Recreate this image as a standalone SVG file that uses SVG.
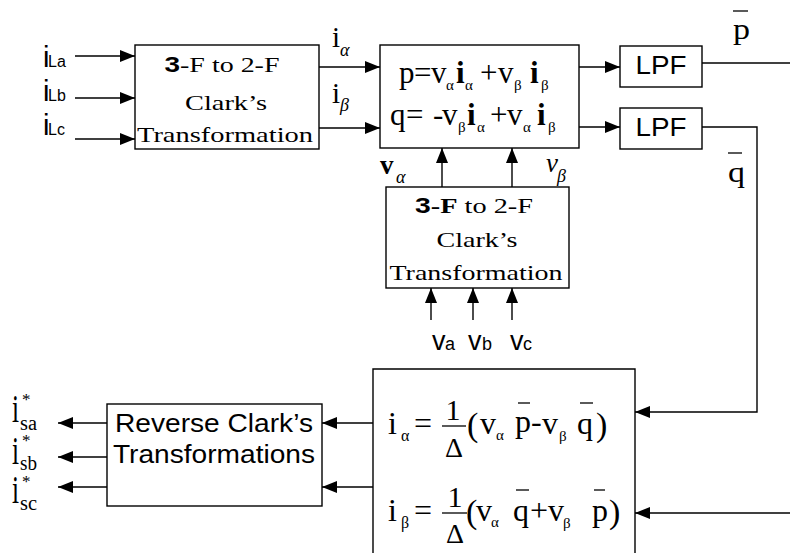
<svg xmlns="http://www.w3.org/2000/svg" width="790" height="553" viewBox="0 0 790 553">
  <style>
    .box{fill:#fff;stroke:#000;stroke-width:1.4}
    .ln{fill:none;stroke:#000;stroke-width:1.4}
    .bar{stroke:#000;stroke-width:1.3}
    .serif{font-family:"Liberation Serif","Times New Roman",serif;fill:#000}
    .sans{font-family:"Liberation Sans",Arial,sans-serif;fill:#000}
    .arr{marker-end:url(#head)}
  </style>
  <defs>
    <marker id="head" markerUnits="userSpaceOnUse" markerWidth="15" markerHeight="12" refX="15" refY="6" orient="auto">
      <path d="M0,0 L15,6 L0,12 z" fill="#000"/>
    </marker>
  </defs>
  <rect width="790" height="553" fill="#fff"/>

  <!-- connectors -->
  <g id="connectors">
    <path class="ln arr" d="M75,56 H135"/>
    <path class="ln arr" d="M75,98 H135"/>
    <path class="ln arr" d="M75,139 H135"/>
    <path class="ln arr" d="M319,67 H380"/>
    <path class="ln arr" d="M319,128 H380"/>
    <path class="ln arr" d="M579,67 H620"/>
    <path class="ln arr" d="M579,127 H620"/>
    <path class="ln" d="M702,63 H790"/>
    <path class="ln arr" d="M702,127 H757 V412 H635"/>
    <path class="ln arr" d="M442,187 V148"/>
    <path class="ln arr" d="M512,187 V148"/>
    <path class="ln arr" d="M431,320 V288"/>
    <path class="ln arr" d="M473,320 V288"/>
    <path class="ln arr" d="M512,320 V288"/>
    <path class="ln arr" d="M790,513 H635"/>
    <path class="ln arr" d="M373,423 H322"/>
    <path class="ln arr" d="M373,487 H322"/>
    <path class="ln arr" d="M107,423 H58"/>
    <path class="ln arr" d="M107,457 H58"/>
    <path class="ln arr" d="M107,487 H58"/>
  </g>

  <!-- load current inputs -->
  <g id="inputs-il">
    <text class="sans"><tspan x="43" y="67" font-size="29">i</tspan><tspan x="48" y="67" font-size="16">La</tspan></text>
    <text class="sans"><tspan x="43" y="101" font-size="29">i</tspan><tspan x="48" y="101" font-size="16">Lb</tspan></text>
    <text class="sans"><tspan x="43" y="135" font-size="29">i</tspan><tspan x="48" y="135" font-size="16">Lc</tspan></text>
  </g>

  <!-- current Clarke transformation -->
  <g id="clark-current">
    <rect class="box" x="135" y="45" width="184" height="104"/>
    <text class="serif" x="222" y="72" font-size="22" text-anchor="middle" textLength="115" lengthAdjust="spacingAndGlyphs"><tspan class="sans" font-weight="bold">3</tspan>-F  to 2-F</text>
    <text class="serif" x="226" y="110" font-size="22" text-anchor="middle" textLength="82" lengthAdjust="spacingAndGlyphs">Clark’s</text>
    <text class="serif" x="225" y="142" font-size="22" text-anchor="middle" textLength="176" lengthAdjust="spacingAndGlyphs">Transformation</text>
  </g>

  <!-- alpha/beta current labels -->
  <g id="labels-i">
    <text class="serif"><tspan x="332" y="47" font-size="29">i</tspan><tspan x="340" y="56" font-size="18" font-style="italic">α</tspan></text>
    <text class="serif"><tspan x="332" y="103" font-size="29">i</tspan><tspan x="340" y="111" font-size="18" font-style="italic">β</tspan></text>
  </g>

  <!-- instantaneous power calculation -->
  <g id="power-calc" class="serif">
    <rect class="box" x="380" y="45" width="199" height="103"/>
    <text font-size="31">
      <tspan x="399" y="83">p</tspan><tspan x="414" y="83">=</tspan><tspan x="431" y="83">v</tspan><tspan x="446" y="90" font-size="15">α</tspan><tspan x="456" y="83" font-weight="bold">i</tspan><tspan x="465" y="90" font-size="15">α</tspan><tspan x="480" y="83">+</tspan><tspan x="498" y="83">v</tspan><tspan x="514" y="90" font-size="15">β</tspan><tspan x="530" y="83" font-weight="bold">i</tspan><tspan x="541" y="90" font-size="15">β</tspan>
    </text>
    <text font-size="31">
      <tspan x="390" y="125">q</tspan><tspan x="406" y="125">=</tspan><tspan x="433" y="125">-</tspan><tspan x="442" y="125">v</tspan><tspan x="458" y="132" font-size="15">β</tspan><tspan x="467" y="125" font-weight="bold">i</tspan><tspan x="477" y="132" font-size="15">α</tspan><tspan x="490" y="125">+</tspan><tspan x="507" y="125">v</tspan><tspan x="523" y="132" font-size="15">α</tspan><tspan x="537" y="125" font-weight="bold">i</tspan><tspan x="548" y="132" font-size="15">β</tspan>
    </text>
  </g>

  <!-- low-pass filters -->
  <g id="lpf-p">
    <rect class="box" x="620" y="46" width="82" height="41"/>
    <text class="sans" x="661" y="74" font-size="25" text-anchor="middle" textLength="51" lengthAdjust="spacingAndGlyphs">LPF</text>
  </g>
  <g id="lpf-q">
    <rect class="box" x="620" y="108" width="82" height="41"/>
    <text class="sans" x="661" y="136" font-size="25" text-anchor="middle" textLength="51" lengthAdjust="spacingAndGlyphs">LPF</text>
  </g>

  <!-- mean power labels -->
  <g id="label-pbar">
    <line class="bar" x1="733" y1="11" x2="748" y2="11"/>
    <text class="serif" x="733" y="39" font-size="29" textLength="17" lengthAdjust="spacingAndGlyphs">p</text>
  </g>
  <g id="label-qbar">
    <line class="bar" x1="728" y1="153" x2="742" y2="153"/>
    <text class="serif" x="728" y="182" font-size="29" textLength="17" lengthAdjust="spacingAndGlyphs">q</text>
  </g>

  <!-- voltage labels -->
  <g id="labels-v">
    <text class="serif"><tspan x="380" y="174" font-size="27" font-weight="bold">v</tspan><tspan x="396" y="183" font-size="18" font-style="italic">α</tspan></text>
    <text class="serif"><tspan x="546" y="172" font-size="27" font-style="italic">v</tspan><tspan x="557" y="182" font-size="18" font-style="italic">β</tspan></text>
  </g>

  <!-- voltage Clarke transformation -->
  <g id="clark-voltage">
    <rect class="box" x="386" y="187" width="183" height="101"/>
    <text class="serif" x="474" y="213" font-size="22" text-anchor="middle" textLength="118" lengthAdjust="spacingAndGlyphs"><tspan class="sans" font-weight="bold">3</tspan><tspan font-weight="bold">-F</tspan>  to 2-F</text>
    <text class="serif" x="477" y="247" font-size="22" text-anchor="middle" textLength="81" lengthAdjust="spacingAndGlyphs">Clark’s</text>
    <text class="serif" x="476" y="280" font-size="22" text-anchor="middle" textLength="173" lengthAdjust="spacingAndGlyphs">Transformation</text>
  </g>

  <!-- phase voltage inputs -->
  <g id="inputs-v" class="sans">
    <text><tspan x="432" y="350" font-size="27">v</tspan><tspan x="445" y="350" font-size="18">a</tspan></text>
    <text><tspan x="468" y="350" font-size="27">v</tspan><tspan x="482" y="350" font-size="18">b</tspan></text>
    <text><tspan x="510" y="350" font-size="27">v</tspan><tspan x="523" y="350" font-size="18">c</tspan></text>
  </g>

  <!-- reference current calculation -->
  <g id="ref-current" class="serif">
    <path class="ln" d="M373,553 V369 H635 V553"/>
    <!-- i_alpha row -->
    <text font-size="32"><tspan x="388" y="434">i</tspan><tspan x="401" y="441" font-size="16">α</tspan><tspan x="414" y="434">=</tspan></text>
    <text font-size="30" x="453" y="420" text-anchor="middle">1</text>
    <line class="bar" x1="442" y1="426" x2="466" y2="426"/>
    <text font-size="28" x="454" y="457" text-anchor="middle">Δ</text>
    <text font-size="32"><tspan x="467" y="436" font-size="34">(</tspan><tspan x="480" y="434">v</tspan><tspan x="496" y="440" font-size="15">α</tspan><tspan x="515" y="432">p</tspan><tspan x="531" y="432">-</tspan><tspan x="542" y="434">v</tspan><tspan x="559" y="441" font-size="15">β</tspan><tspan x="577" y="434">q</tspan><tspan x="596" y="436" font-size="34">)</tspan></text>
    <line class="bar" x1="518" y1="403" x2="530" y2="403"/>
    <line class="bar" x1="580" y1="403" x2="593" y2="403"/>
    <!-- i_beta row -->
    <text font-size="32"><tspan x="388" y="521">i</tspan><tspan x="401" y="528" font-size="16">β</tspan><tspan x="414" y="521">=</tspan></text>
    <text font-size="30" x="455" y="507" text-anchor="middle">1</text>
    <line class="bar" x1="442" y1="513" x2="467" y2="513"/>
    <text font-size="28" x="455" y="543" text-anchor="middle">Δ</text>
    <text font-size="32"><tspan x="466" y="523" font-size="34">(</tspan><tspan x="476" y="521">v</tspan><tspan x="491" y="527" font-size="15">α</tspan><tspan x="513" y="521">q</tspan><tspan x="530" y="521">+</tspan><tspan x="548" y="521">v</tspan><tspan x="563" y="528" font-size="15">β</tspan><tspan x="592" y="521">p</tspan><tspan x="609" y="523" font-size="34">)</tspan></text>
    <line class="bar" x1="516" y1="490" x2="529" y2="490"/>
    <line class="bar" x1="594" y1="490" x2="605" y2="490"/>
  </g>

  <!-- inverse Clarke transformation -->
  <g id="reverse-clark">
    <rect class="box" x="107" y="404" width="215" height="102"/>
    <text class="sans" x="115" y="432" font-size="25" textLength="198" lengthAdjust="spacingAndGlyphs">Reverse Clark’s</text>
    <text class="sans" x="113" y="463" font-size="25" textLength="202" lengthAdjust="spacingAndGlyphs">Transformations</text>
  </g>

  <!-- source reference current outputs -->
  <g id="outputs-is" class="serif">
    <text x="12" y="422" font-size="40" textLength="7" lengthAdjust="spacingAndGlyphs">i</text>
    <text x="22" y="405" font-size="17">*</text>
    <text x="20" y="430" font-size="20" textLength="17" lengthAdjust="spacingAndGlyphs">sa</text>
    <text x="12" y="464" font-size="40" textLength="7" lengthAdjust="spacingAndGlyphs">i</text>
    <text x="22" y="446" font-size="17">*</text>
    <text x="20" y="470" font-size="20" textLength="17" lengthAdjust="spacingAndGlyphs">sb</text>
    <text x="12" y="503" font-size="40" textLength="7" lengthAdjust="spacingAndGlyphs">i</text>
    <text x="22" y="487" font-size="17">*</text>
    <text x="20" y="510" font-size="20" textLength="17" lengthAdjust="spacingAndGlyphs">sc</text>
  </g>
</svg>
